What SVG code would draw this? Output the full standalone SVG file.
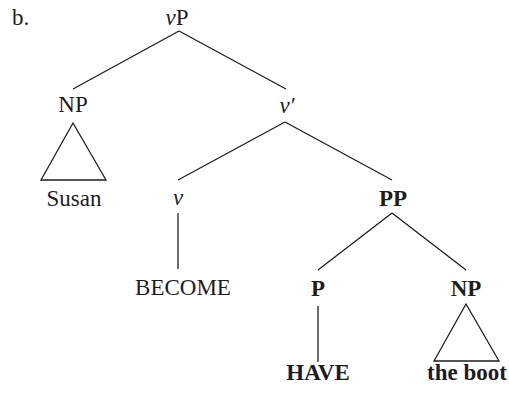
<svg xmlns="http://www.w3.org/2000/svg" width="509" height="393" viewBox="0 0 509 393">
<style>
text{font-family:"Liberation Serif","Times New Roman",serif;font-size:23px;fill:#1f1c1d;text-anchor:middle}
.b{font-weight:bold}
.i{font-style:italic}
line,polygon{stroke:#1f1c1d;stroke-width:1.3;fill:none}
</style>
<rect width="509" height="393" fill="#fff"/>
<text x="12" y="25" style="text-anchor:start">b.</text>
<g id="connectors">
<line x1="179" y1="31" x2="73" y2="89"/>
<line x1="179" y1="31" x2="286" y2="89"/>
<line x1="285" y1="122" x2="178" y2="180"/>
<line x1="285" y1="122" x2="392" y2="180"/>
<line x1="178" y1="213" x2="178" y2="269"/>
<line x1="392" y1="213" x2="318" y2="270"/>
<line x1="392" y1="213" x2="466" y2="270"/>
<line x1="318" y1="306" x2="318" y2="362"/>
</g>
<g id="vP"><text x="177" y="25"><tspan class="i">v</tspan>P</text></g>
<g id="NP1"><text x="73" y="112">NP</text></g>
<g id="Susan"><polygon points="73,123 41,180 106,180"/><text x="74" y="206">Susan</text></g>
<g id="vbar"><text x="287" y="113" class="i">v′</text></g>
<g id="v"><text x="178" y="205" class="i">v</text></g>
<g id="BECOME"><text x="183" y="295">BECOME</text></g>
<g id="PP"><text x="393" y="206" class="b">PP</text></g>
<g id="P"><text x="318" y="296" class="b">P</text></g>
<g id="HAVE"><text x="318" y="380" class="b">HAVE</text></g>
<g id="NP2"><text x="466" y="296" class="b">NP</text></g>
<g id="theboot"><polygon points="466,304 434,361 499,361"/><text x="467" y="380" class="b">the boot</text></g>
</svg>
